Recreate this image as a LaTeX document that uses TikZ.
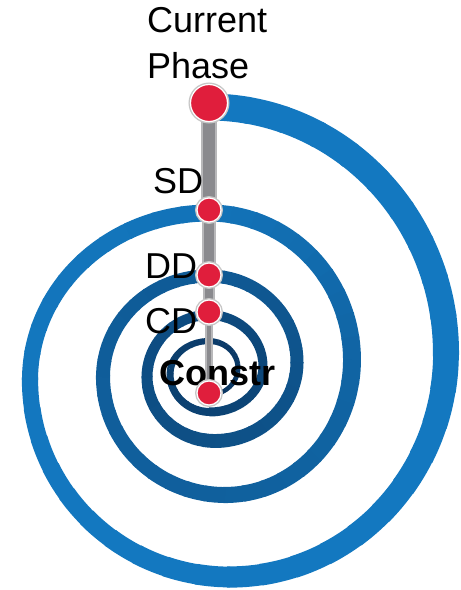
\documentclass[tikz,border=0pt]{standalone}
\usepackage{fontspec}
\setmainfont{Liberation Sans}
\usetikzlibrary{positioning}
\definecolor{spirallight}{HTML}{1378C0}
\definecolor{spiraldark}{HTML}{0A3560}
\definecolor{dotred}{HTML}{E01E3C}
\definecolor{barlight}{HTML}{B8B8BA}
\definecolor{bardark}{HTML}{8A8A8E}

% one quarter turn of the spiral: cx, cy, rx, ry, start angle, width from/to, shade from/to
\newcommand\spiralquarter[9]{%
  \foreach \k in {0,...,9}{%
    \pgfmathsetmacro\ak{#5+9*\k}%
    \pgfmathsetmacro\wk{#6+(#7-#6)*(\k+0.5)/10}%
    \pgfmathtruncatemacro\dk{#8+(#9-#8)*(\k+0.5)/10}%
    \draw[line width=\wk pt, spiraldark!\dk!spirallight]
      (#1,#2) ++(\ak:#3 and #4) arc[start angle=\ak, delta angle=9.8, x radius=#3, y radius=#4];
  }%
}
% one piece of the grey rod
\newcommand\rodpiece[3]{%
  \draw[barlight, line width=#3pt] (#1) -- (#2);
  \draw[bardark, line width=#3pt-4pt] (#1) -- (#2);
}

\begin{document}
\begin{tikzpicture}[
    x=1pt, y=-1pt,
    lbl/.style={font=\fontsize{36}{43}\selectfont, inner sep=0pt, anchor=base west},
    phasedot/.style={circle, fill=dotred, draw=white, line width=1.2pt, inner sep=0pt,
      minimum size=24pt, preaction={draw=gray!45, line width=4pt}},
    bigdot/.style={phasedot, minimum size=37pt}
  ]
    \useasboundingbox (0,0) rectangle (461,590);

    % spiral, outside in
    \spiralquarter{209}{353}{237}{246}{-90}{27}{26}{0}{0}
    \spiralquarter{230}{353}{216}{224}{0}{26}{21}{0}{0}
    \spiralquarter{230}{380}{200}{197}{90}{21}{16}{0}{2}
    \spiralquarter{209}{380}{179}{167}{180}{16}{17}{2}{8}
    \spiralquarter{209}{360}{143}{147}{-90}{17}{18}{8}{30}
    \spiralquarter{225}{360}{127}{135}{0}{18}{16}{30}{36}
    \spiralquarter{225}{377}{122}{118}{90}{16}{14}{36}{40}
    \spiralquarter{209}{377}{106}{101}{180}{14}{13}{40}{45}
    \spiralquarter{209}{362}{88}{86}{-90}{13}{13}{45}{55}
    \spiralquarter{215}{362}{82}{79}{0}{13}{14}{55}{60}
    \spiralquarter{215}{377}{68}{64}{90}{14}{11}{60}{64}
    \spiralquarter{209}{377}{62}{62}{180}{11}{10}{64}{68}
    \spiralquarter{209}{366}{54}{51}{-90}{10}{9}{68}{74}
    \spiralquarter{210}{366}{53}{46}{0}{9}{9}{74}{80}
    \spiralquarter{210}{374}{40}{38}{90}{8}{7}{80}{85}
    \spiralquarter{209}{374}{39}{33}{180}{7}{6}{85}{90}
    \spiralquarter{209}{368}{29}{27}{-90}{6}{5}{90}{95}
    \spiralquarter{209}{368}{29}{27}{0}{5}{4}{95}{100}

    \coordinate (curpt) at (209,103);
    \coordinate (sdpt) at (209,210);
    \coordinate (ddpt) at (209,275);
    \coordinate (cdpt) at (209,312);
    \coordinate (constrpt) at (209,393);

    \rodpiece{curpt}{sdpt}{16}
    \rodpiece{sdpt}{ddpt}{14}
    \rodpiece{ddpt}{cdpt}{12}
    \rodpiece{cdpt}{constrpt}{8}

    \node[lbl] (curlbl) at (147,32) {Current};
    \node[lbl] (phaselbl) at (147,78) {Phase};
    \node[lbl] (sdlbl) at (153,193) {SD};
    \node[lbl] (ddlbl) at (145,278) {DD};
    \node[lbl] (cdlbl) at (145,333) {CD};
    \node[lbl, font=\fontsize{36}{43}\selectfont\bfseries] (constrlbl) at (159,385) {Constr};

    \node[bigdot] (curdot) at (curpt) {};
    \node[phasedot] (sddot) at (sdpt) {};
    \node[phasedot] (dddot) at (ddpt) {};
    \node[phasedot] (cddot) at (cdpt) {};
    \node[phasedot] (constrdot) at (constrpt) {};
\end{tikzpicture}
\end{document}
